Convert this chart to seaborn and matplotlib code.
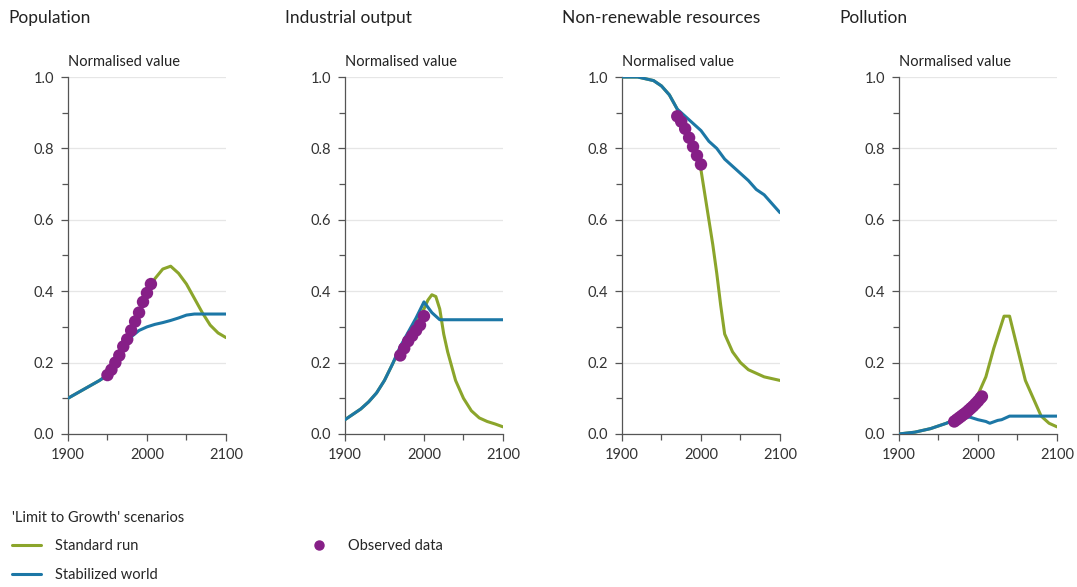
import numpy as np
import pandas as pd
import matplotlib.pyplot as plt
import seaborn as sns
from matplotlib.lines import Line2D
from matplotlib.ticker import MultipleLocator

sns.set_style("white")
plt.rcParams['font.family'] = ['Lato', 'DejaVu Sans']

GREEN = '#8ba52b'
BLUE = '#1c77a6'
PURPLE = '#861f87'

# Population
pop_years = [1900, 1920, 1940, 1950, 1960, 1970, 1980, 1990, 2000, 2010, 2020, 2030,
             2040, 2050, 2060, 2070, 2080, 2090, 2100]
pop_std = [0.10, 0.125, 0.15, 0.165, 0.20, 0.24, 0.29, 0.34, 0.39, 0.435, 0.462, 0.47,
           0.45, 0.42, 0.38, 0.34, 0.305, 0.283, 0.27]
pop_stab = [0.10, 0.125, 0.15, 0.165, 0.20, 0.24, 0.272, 0.29, 0.30, 0.307, 0.312, 0.318,
            0.325, 0.333, 0.336, 0.336, 0.336, 0.336, 0.336]
pop_obs_years = [1950, 1955, 1960, 1965, 1970, 1975, 1980, 1985, 1990, 1995, 2000, 2005]
pop_obs = [0.165, 0.18, 0.20, 0.22, 0.245, 0.265, 0.29, 0.315, 0.34, 0.37, 0.395, 0.42]

# Industrial output
ind_years_std = [1900, 1910, 1920, 1930, 1940, 1950, 1960, 1970, 1980, 1990, 2000, 2005,
                 2010, 2015, 2020, 2025, 2030, 2040, 2050, 2060, 2070, 2080, 2090, 2100]
ind_std = [0.04, 0.055, 0.07, 0.09, 0.115, 0.15, 0.195, 0.24, 0.275, 0.31, 0.35, 0.375,
           0.39, 0.385, 0.35, 0.28, 0.23, 0.15, 0.10, 0.065, 0.045, 0.035, 0.028, 0.02]
ind_years_stab = [1900, 1910, 1920, 1930, 1940, 1950, 1960, 1970, 1980, 1990, 2000, 2010,
                  2020, 2030, 2040, 2050, 2060, 2070, 2080, 2090, 2100]
ind_stab = [0.04, 0.055, 0.07, 0.09, 0.115, 0.15, 0.195, 0.245, 0.285, 0.325, 0.37, 0.34,
            0.32, 0.32, 0.32, 0.32, 0.32, 0.32, 0.32, 0.32, 0.32]
ind_obs_years = [1970, 1975, 1980, 1985, 1990, 1995, 2000]
ind_obs = [0.22, 0.24, 0.26, 0.275, 0.29, 0.305, 0.33]

# Non-renewable resources
res_years_std = [1900, 1920, 1940, 1950, 1960, 1970, 1980, 1990, 2000, 2010, 2015, 2020,
                 2025, 2030, 2040, 2050, 2060, 2070, 2080, 2090, 2100]
res_std = [1.0, 1.0, 0.99, 0.975, 0.95, 0.91, 0.86, 0.81, 0.74, 0.60, 0.53, 0.45,
           0.36, 0.28, 0.23, 0.20, 0.18, 0.17, 0.16, 0.155, 0.15]
res_years_stab = [1900, 1920, 1940, 1950, 1960, 1970, 1980, 1990, 2000, 2010, 2020, 2030,
                  2040, 2050, 2060, 2070, 2080, 2090, 2100]
res_stab = [1.0, 1.0, 0.99, 0.975, 0.95, 0.91, 0.89, 0.87, 0.85, 0.82, 0.80, 0.77,
            0.75, 0.73, 0.71, 0.685, 0.67, 0.645, 0.62]
res_obs_years = [1970, 1975, 1980, 1985, 1990, 1995, 2000]
res_obs = [0.89, 0.875, 0.855, 0.83, 0.805, 0.78, 0.755]

# Pollution
pol_years_std = [1900, 1920, 1940, 1960, 1970, 1980, 1990, 2000, 2010, 2020, 2033, 2040,
                 2050, 2060, 2070, 2080, 2090, 2100]
pol_std = [0.0, 0.005, 0.015, 0.03, 0.04, 0.055, 0.075, 0.11, 0.16, 0.24, 0.33, 0.33,
           0.24, 0.15, 0.10, 0.05, 0.03, 0.02]
pol_years_stab = [1900, 1920, 1940, 1960, 1970, 1980, 1990, 2000, 2010, 2015, 2025, 2030,
                  2040, 2050, 2060, 2070, 2080, 2090, 2100]
pol_stab = [0.0, 0.005, 0.015, 0.03, 0.04, 0.046, 0.047, 0.04, 0.035, 0.03, 0.038, 0.04,
            0.05, 0.05, 0.05, 0.05, 0.05, 0.05, 0.05]
pol_obs_years = [1970, 1973, 1976, 1979, 1982, 1985, 1988, 1991, 1994, 1997, 2000, 2003, 2005]
pol_obs = [0.035, 0.04, 0.045, 0.05, 0.055, 0.06, 0.066, 0.072, 0.078, 0.085, 0.092, 0.10, 0.105]

panels = [
    ("Population", pop_years, pop_std, pop_years, pop_stab, pop_obs_years, pop_obs),
    ("Industrial output", ind_years_std, ind_std, ind_years_stab, ind_stab, ind_obs_years, ind_obs),
    ("Non-renewable resources", res_years_std, res_std, res_years_stab, res_stab, res_obs_years, res_obs),
    ("Pollution", pol_years_std, pol_std, pol_years_stab, pol_stab, pol_obs_years, pol_obs),
]

fig, axes = plt.subplots(1, 4, figsize=(10.77, 5.87), dpi=100)
fig.subplots_adjust(left=0.0631, right=0.9814, bottom=0.2607, top=0.8688, wspace=0.753)

for ax, (title, xs, ys, xb, yb, xo, yo) in zip(axes, panels):
    sns.lineplot(x=xs, y=ys, ax=ax, color=GREEN, linewidth=2.2, zorder=3)
    sns.lineplot(x=xb, y=yb, ax=ax, color=BLUE, linewidth=2.2, zorder=4)
    sns.scatterplot(x=xo, y=yo, ax=ax, color=PURPLE, s=80, edgecolor='none', zorder=5)

    ax.set_xlim(1900, 2100)
    ax.set_ylim(0, 1.0)
    ax.set_xticks([1900, 2000, 2100])
    ax.xaxis.set_minor_locator(MultipleLocator(50))
    ax.set_yticks([0, 0.2, 0.4, 0.6, 0.8, 1.0])
    ax.yaxis.set_minor_locator(MultipleLocator(0.1))
    ax.set_yticklabels(['0.0', '0.2', '0.4', '0.6', '0.8', '1.0'])
    ax.grid(axis='y', color='#e6e6e6', linewidth=0.9)
    ax.set_axisbelow(True)
    ax.tick_params(axis='both', which='both', direction='out', color='#555555',
                   labelcolor='#333333', labelsize=10.5)
    ax.tick_params(axis='both', which='major', length=5, width=0.9, pad=5)
    ax.tick_params(axis='both', which='minor', length=4, width=0.9)
    ax.tick_params(axis='y', which='both', left=True)
    ax.tick_params(axis='x', which='both', bottom=True)
    for side in ['top', 'right']:
        ax.spines[side].set_visible(False)
    for side in ['left', 'bottom']:
        ax.spines[side].set_color('#555555')
        ax.spines[side].set_linewidth(0.9)
    ax.set_xlabel('')
    ax.set_ylabel('')
    ax.set_title('Normalised value', loc='left', fontsize=10.5, color='#222222', pad=8)
    ax.text(-60 / 158, 1.165, title, transform=ax.transAxes, fontsize=12.5,
            color='#222222', va='center', ha='left')

handles = [
    Line2D([], [], color=GREEN, linewidth=2.2),
    Line2D([], [], color=BLUE, linewidth=2.2),
    Line2D([], [], color=PURPLE, marker='o', linestyle='none', markersize=6.5),
]
labels = ['Standard run', 'Stabilized world', 'Observed data']
leg = fig.legend(handles, labels, loc='upper left', bbox_to_anchor=(0.0, 0.15),
                 ncol=2, frameon=False, fontsize=10.5, title="'Limit to Growth' scenarios",
                 title_fontsize=10.5, alignment='left', handlelength=2.0,
                 handletextpad=1.0, columnspacing=10.0, labelspacing=1.0, borderpad=0.3)

fig.savefig('out.png', dpi=100)
